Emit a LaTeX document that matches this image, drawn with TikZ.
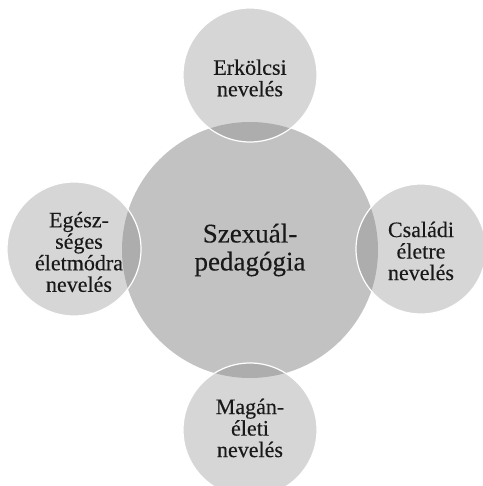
\documentclass[tikz,border=0pt]{standalone}
\usepackage{fontspec}
\setmainfont{Liberation Serif}[FakeBold=0.3,BoldFont={Liberation Serif}]
\begin{document}
\begin{tikzpicture}[x=1pt,y=-1pt,
  hub/.style={circle,fill=hubgray,draw=none,minimum size=256pt,inner sep=0pt},
  sat/.style={circle,fill=black!48,fill opacity=0.333,draw=white,
    line width=1.2pt,inner sep=0pt},
  hubtext/.style={align=center,font=\fontsize{27}{28}\selectfont\bfseries,text=black!90},
  sattext/.style={align=center,font=\fontsize{22}{21.5}\selectfont\bfseries,text=black!90}]
\definecolor{hubgray}{HTML}{C2C2C2}
\useasboundingbox (0,0) rectangle (482,486);
\node[hub] (c) at (250,250) {};
\node[sat,minimum size=134pt] (t) at (250,75) {};
\node[sat,minimum size=134pt] (l) at (74,249) {};
\node[sat,minimum size=130pt] (r) at (421,249) {};
\node[sat,minimum size=134pt] (b) at (250,430) {};
\node[hubtext] (ct) at (c.center) {Szexuál-\\pedagógia};
\node[sattext] (tt) at (250,78) {Erkölcsi\\nevelés};
\node[sattext] (lt) at (79,252) {Egész-\\séges\\életmódra\\nevelés};
\node[sattext] (rt) at (421,251) {Családi\\életre\\nevelés};
\node[sattext] (bt) at (250,428) {Magán-\\életi\\nevelés};
\end{tikzpicture}
\end{document}
